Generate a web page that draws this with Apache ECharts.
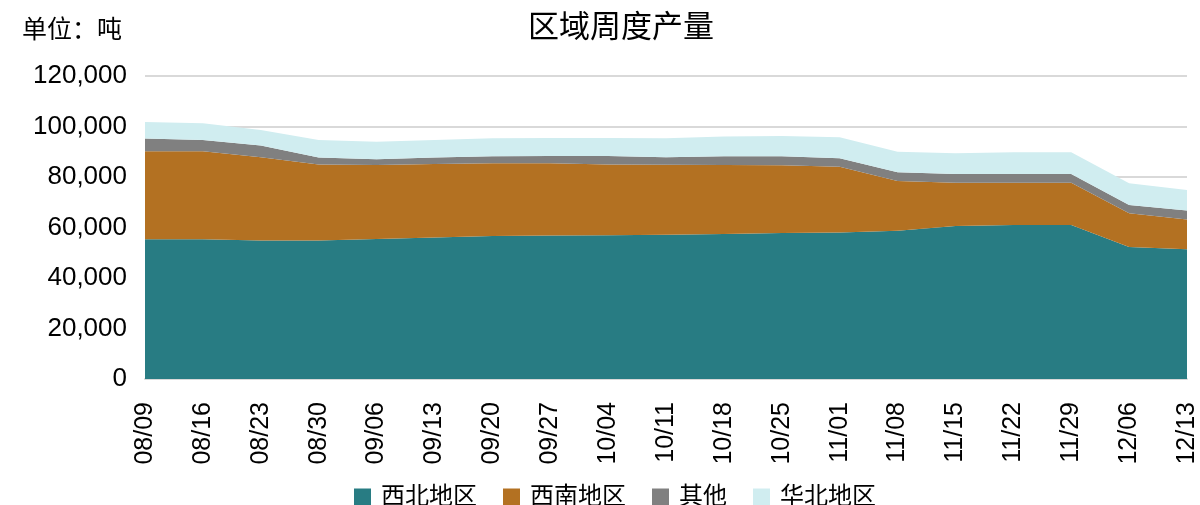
<!DOCTYPE html>
<html>
<head>
<meta charset="utf-8">
<script src="https://cdn.jsdelivr.net/npm/echarts@6/dist/echarts.min.js"></script>
<style>
  html, body { margin: 0; padding: 0; background: #fff; }
  #chart { width: 1200px; height: 505px; }
</style>
</head>
<body>
<div id="chart"></div>
<script>
var categories = ["08/09", "08/16", "08/23", "08/30", "09/06", "09/13", "09/20", "09/27", "10/04", "10/11",
  "10/18", "10/25", "11/01", "11/08", "11/15", "11/22", "11/29", "12/06", "12/13"];
var northwest = [55300, 55300, 54900, 54900, 55400, 56000, 56600, 56800, 56900, 57100, 57400, 57800, 58000, 58700, 60600, 61000, 61000, 52300, 51400];
var southwest = [34900, 34900, 32900, 30100, 29400, 29100, 28800, 28600, 28100, 27800, 27400, 26900, 26100, 19700, 17100, 16700, 16700, 13300, 11800];
var others = [5000, 4500, 4700, 2700, 2200, 2600, 2800, 2900, 3300, 2900, 3400, 3500, 3300, 3500, 3500, 3500, 3500, 3300, 3500];
var northChina = [6600, 6600, 6100, 7000, 7000, 7000, 7100, 7100, 7100, 7500, 7800, 8000, 8300, 8100, 8200, 8600, 8600, 8600, 8200];

var font = "Liberation Sans, Arial, Noto Sans CJK SC, sans-serif";
var chart = echarts.init(document.getElementById("chart"));

function areaSeries(name, data, color) {
  return {
    name: name,
    type: "line",
    stack: "total",
    data: data,
    symbol: "none",
    lineStyle: { width: 0 },
    areaStyle: { color: color, opacity: 1 },
    itemStyle: { color: color }
  };
}

var option = {
  animation: false,
  textStyle: { fontFamily: font },
  title: [
    {
      text: "区域周度产量",
      left: 523,
      top: 8,
      textStyle: { fontSize: 31, fontWeight: "normal", color: "#000", fontFamily: font }
    },
    {
      text: "单位：吨",
      left: 17,
      top: 14,
      textStyle: { fontSize: 25, fontWeight: "normal", color: "#000", fontFamily: font }
    }
  ],
  legend: {
    left: 349,
    top: 480,
    itemWidth: 17,
    itemHeight: 17,
    itemGap: 26,
    icon: "rect",
    textStyle: { fontSize: 24, color: "#000", fontFamily: font, padding: [0, 0, 0, 5] },
    data: ["西北地区", "西南地区", "其他", "华北地区"]
  },
  grid: { left: 145, right: 13, top: 76, bottom: 126 },
  xAxis: {
    type: "category",
    data: categories,
    boundaryGap: false,
    axisLine: { lineStyle: { color: "#d9d9d9", width: 2 } },
    axisTick: { show: false },
    axisLabel: { rotate: 90, interval: 0, fontSize: 25, color: "#000", margin: 23, fontFamily: font }
  },
  yAxis: {
    type: "value",
    min: 0,
    max: 120000,
    interval: 20000,
    axisLine: { show: false },
    axisTick: { show: false },
    splitLine: { lineStyle: { color: "#d9d9d9", width: 2 } },
    axisLabel: {
      fontSize: 26,
      color: "#000",
      margin: 18,
      fontFamily: font,
      formatter: function (v) { return v.toLocaleString("en-US"); }
    }
  },
  series: [
    areaSeries("西北地区", northwest, "#287C83"),
    areaSeries("西南地区", southwest, "#B37122"),
    areaSeries("其他", others, "#808080"),
    areaSeries("华北地区", northChina, "#D0EDF0")
  ]
};

chart.setOption(option);
</script>
</body>
</html>
